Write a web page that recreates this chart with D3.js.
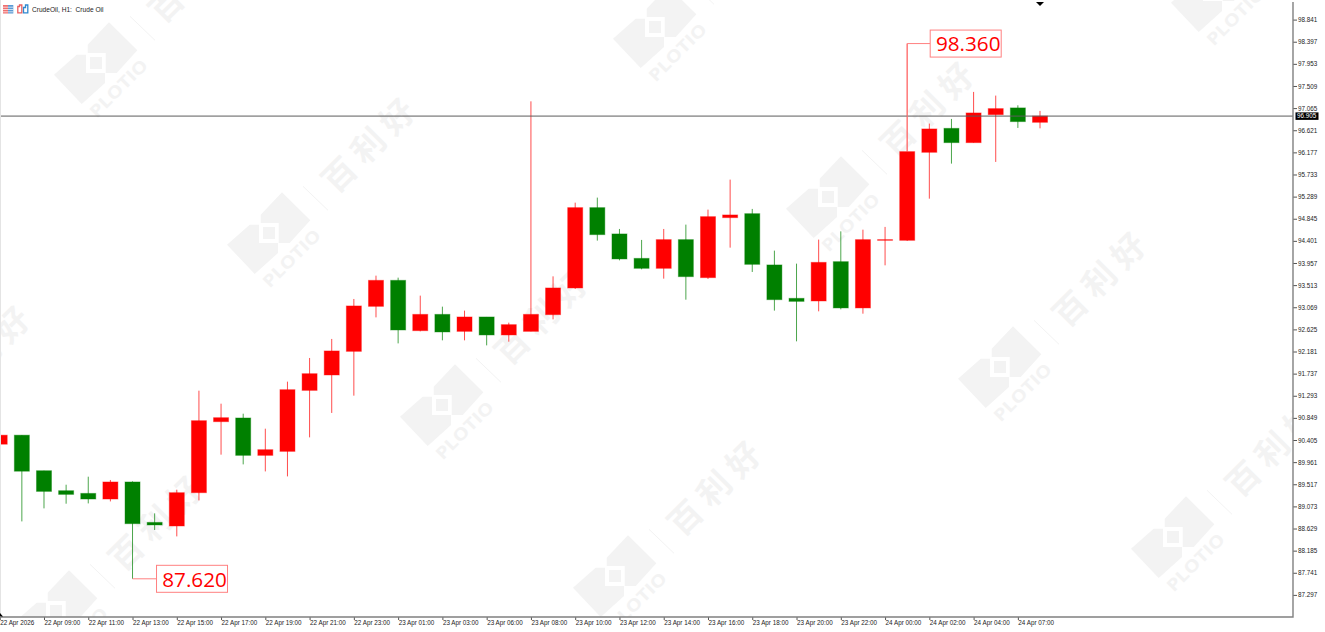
<!DOCTYPE html>
<html>
<head>
<meta charset="utf-8">
<style>
  html, body {margin: 0; padding: 0; background: #fff; overflow: hidden;}
  svg {display: block;}
  text {font-family: "Liberation Sans", Arial, sans-serif;}
</style>
<script src="https://cdn.jsdelivr.net/npm/d3@7"></script>
</head>
<body>
<div id="map"></div>
<script>
`use strict`;

// prices, one entry per H1 bar
const opens = [90.321, 90.502, 89.789, 89.388, 89.334, 89.221, 89.563, 88.752, 88.680, 89.348, 90.773, 90.847,
  90.097, 90.177, 91.401, 91.710, 92.184, 93.087, 93.609, 92.599, 92.926, 92.585, 92.874, 92.513,
  92.585, 92.920, 93.456, 95.068, 94.540, 94.050, 93.850, 94.426, 93.663, 94.867, 94.947, 93.918,
  93.248, 93.195, 93.984, 93.055, 94.412, 94.412, 96.178, 96.659, 96.372, 96.934, 97.069, 96.780];
const closes = [90.502, 89.779, 89.374, 89.314, 89.221, 89.563, 88.726, 88.700, 89.348, 90.793, 90.853, 90.097,
  90.211, 91.415, 91.736, 92.192, 93.095, 93.609, 92.613, 92.926, 92.573, 92.874, 92.513, 92.720,
  92.926, 93.456, 95.068, 94.526, 94.038, 93.850, 94.426, 93.683, 94.887, 94.921, 93.930, 93.221,
  93.187, 93.970, 93.055, 94.426, 94.426, 96.192, 96.647, 96.372, 96.968, 97.055, 96.794, 96.905];
const highs = [90.502, 90.502, 89.789, 89.508, 89.669, 89.603, 89.575, 88.933, 89.408, 91.395, 91.134, 90.933,
  90.632, 91.576, 92.051, 92.433, 93.235, 93.703, 93.663, 93.302, 93.081, 93.001, 92.874, 92.760,
  97.201, 93.689, 95.168, 95.269, 94.640, 94.420, 94.640, 94.727, 95.028, 95.630, 95.042, 94.205,
  93.944, 94.426, 94.592, 94.626, 94.681, 98.360, 96.754, 96.848, 97.390, 97.316, 97.121, 97.009];
const lows = [90.321, 88.772, 89.033, 89.127, 89.133, 89.173, 87.620, 88.599, 88.471, 89.193, 90.111, 89.916,
  89.775, 89.675, 90.458, 90.948, 91.295, 92.866, 92.344, 92.585, 92.405, 92.405, 92.304, 92.378,
  92.585, 92.826, 93.436, 94.406, 94.010, 93.830, 93.643, 93.221, 93.637, 94.265, 93.777, 93.001,
  92.385, 92.987, 93.027, 92.940, 93.910, 94.400, 95.248, 95.951, 96.372, 95.985, 96.667, 96.659];

const priceTicks = [98.841, 98.397, 97.953, 97.509, 97.065, 96.621, 96.177, 95.733, 95.289, 94.845, 94.401,
  93.957, 93.513, 93.069, 92.625, 92.181, 91.737, 91.293, 90.849, 90.405, 89.961, 89.517, 89.073,
  88.629, 88.185, 87.741, 87.297];

const timeTickBars = [0, 2, 4, 6, 8, 10, 12, 14, 16, 18, 20, 22, 24, 26, 28, 30, 32, 34, 36, 38, 40, 42, 44, 46];
const timeTickLabels = [`22 Apr 2026`, `22 Apr 09:00`, `22 Apr 11:00`, `22 Apr 13:00`, `22 Apr 15:00`, `22 Apr 17:00`,
  `22 Apr 19:00`, `22 Apr 21:00`, `22 Apr 23:00`, `23 Apr 01:00`, `23 Apr 03:00`, `23 Apr 06:00`, `23 Apr 08:00`,
  `23 Apr 10:00`, `23 Apr 12:00`, `23 Apr 14:00`, `23 Apr 16:00`, `23 Apr 18:00`, `23 Apr 20:00`, `23 Apr 22:00`,
  `24 Apr 00:00`, `24 Apr 02:00`, `24 Apr 04:00`, `24 Apr 07:00`];

const lastPrice = 96.905;
const chartTitle = `CrudeOil, H1:  Crude Oil`;
const extremeBars = [41, 6];
const extremePrices = [98.360, 87.620];

// watermark tiles, centre of the small square in each logo
const markX = [96, 269, 442, 615, 655, 828, 1000, 1173, 1213, 56, -116];
const markY = [63, 233, 405, 576, 27, 197, 367, 537, -9, 611, 441];

(function () {

  const W = 1325, H = 632, right = 1293, bottom = 617;

  const red = `#ff0000`, green = `#008000`, pink = `#ff8080`, mark = `#f3f3f3`;

  let x = d3.scaleLinear().domain([0, 47]).range([-0.28, 1040]);

  let y = d3.scaleLinear().domain([98.841, 87.297]).range([19.6, 594.9]);

  let svg = d3.select(`#map`).append(`svg`)
    .attr(`width`, W)
    .attr(`height`, H);

  svg.append(`rect`).attr(`width`, W).attr(`height`, H).attr(`fill`, `#fff`);

  svg.append(`defs`).append(`clipPath`).attr(`id`, `plot`)
    .append(`rect`).attr(`width`, right).attr(`height`, bottom);

  /**
  @dev - watermark
  **/

  let plot = svg.append(`g`).attr(`clip-path`, `url(#plot)`);

  let tiles = plot.append(`g`).selectAll(`g`).data(markX)
    .enter()
    .append(`g`)
    .attr(`transform`, (d, i) => `translate(${d},${markY[i]})`);

  tiles.append(`path`)
    .attr(`fill`, mark)
    .attr(`d`, `M-8.3,-18.3L13,-40.7L41.3,-12.7L20.7,10L9.7,10L9.7,-10L-8.3,-10Z`
      + `M-42,11.7L-19.3,-8.3L-10,-8.3L-10,10L9,10L9,20L-14.3,41Z`
      + `M-6,-6L6,-6L6,6L-6,6Z`);

  // skip the words of tiles that fall wholly outside the window
  tiles.filter(d => d > 0)
    .append(`text`)
    .attr(`transform`, `translate(0.7,55.7) rotate(-45)`)
    .attr(`fill`, mark)
    .attr(`font-size`, 17)
    .attr(`font-weight`, `bold`)
    .attr(`textLength`, 74)
    .attr(`lengthAdjust`, `spacingAndGlyphs`)
    .style(`font-family`, `"Open Sans", sans-serif`)
    .text(`PLOTIO`);

  tiles.append(`line`)
    .attr(`x1`, 34).attr(`y1`, -46.7)
    .attr(`x2`, 59).attr(`y2`, -22.7)
    .attr(`stroke`, mark)
    .attr(`stroke-width`, 1);

  tiles.filter((d, i) => markY[i] > 40)
    .append(`text`)
    .attr(`transform`, `translate(100.5,-91.5) rotate(-45)`)
    .attr(`fill`, mark)
    .attr(`font-size`, 33)
    .attr(`font-weight`, `bold`)
    .attr(`text-anchor`, `middle`)
    .attr(`dominant-baseline`, `central`)
    .attr(`letter-spacing`, 8)
    .style(`font-family`, `"Noto Sans CJK SC", sans-serif`)
    .text(`百利好`);

  /**
  @dev - candles
  **/

  let bars = plot.append(`g`).selectAll(`g`).data(opens)
    .enter()
    .append(`g`)
    .attr(`class`, `bar`);

  let tone = (d, i) => closes[i] >= d ? red : green;

  bars.append(`line`)
    .attr(`x1`, (d, i) => x(i))
    .attr(`x2`, (d, i) => x(i))
    .attr(`y1`, (d, i) => y(highs[i]))
    .attr(`y2`, (d, i) => y(lows[i]))
    .attr(`stroke`, tone)
    .attr(`stroke-opacity`, .7)
    .attr(`stroke-width`, 1);

  bars.append(`rect`)
    .attr(`x`, (d, i) => x(i) - 7.5)
    .attr(`width`, 15)
    .attr(`y`, (d, i) => y(Math.max(d, closes[i])))
    .attr(`height`, (d, i) => Math.max(Math.abs(y(d) - y(closes[i])), .6))
    .attr(`fill`, tone)
    .attr(`stroke`, tone)
    .attr(`stroke-opacity`, .4)
    .attr(`stroke-width`, 1);

  // last price line
  plot.append(`line`)
    .attr(`x1`, 0).attr(`x2`, right)
    .attr(`y1`, y(lastPrice)).attr(`y2`, y(lastPrice))
    .attr(`stroke`, `#5c5c5c`)
    .attr(`stroke-width`, 1);

  /**
  @dev - high and low callouts
  **/

  let notes = svg.append(`g`).selectAll(`g`).data(extremeBars)
    .enter()
    .append(`g`);

  // the high tag sits 23px right of its bar, the low tag 24px
  let tagX = (d, i) => x(d) + (i ? 24 : 23);

  notes.append(`path`)
    .attr(`fill`, `none`)
    .attr(`stroke`, pink)
    .attr(`d`, (d, i) => i
      ? `M${x(d)},${y(extremePrices[i])}H${tagX(d, i)}`
      : `M${x(d)},${y(Math.max(opens[d], closes[d]))}V${y(extremePrices[i])}H${tagX(d, i)}`);

  notes.append(`rect`)
    .attr(`x`, tagX)
    .attr(`y`, (d, i) => y(extremePrices[i]) - 13.5)
    .attr(`width`, 71)
    .attr(`height`, 27)
    .attr(`fill`, `#fff`)
    .attr(`stroke`, pink);

  notes.append(`text`)
    .attr(`x`, (d, i) => tagX(d, i) + 38)
    .attr(`y`, (d, i) => y(extremePrices[i]) + 7.8)
    .attr(`text-anchor`, `middle`)
    .attr(`fill`, red)
    .attr(`font-size`, 20.7)
    .style(`font-family`, `"Open Sans", sans-serif`)
    .text((d, i) => extremePrices[i].toFixed(3));

  /**
  @dev - axes
  **/

  let yAxis = svg.append(`g`)
    .attr(`transform`, `translate(${right},0)`)
    .call(d3.axisRight(y).tickValues(priceTicks).tickSize(4).tickPadding(1).tickFormat(d3.format(`.3f`)));

  yAxis.select(`.domain`).remove();

  yAxis.selectAll(`line`).attr(`stroke`, `#555`);

  yAxis.selectAll(`text`)
    .attr(`fill`, `#222`)
    .attr(`font-size`, 6.3)
    .style(`font-family`, `"Liberation Sans", sans-serif`);

  let xAxis = svg.append(`g`)
    .attr(`transform`, `translate(0,${bottom})`)
    .call(d3.axisBottom(x).tickValues(timeTickBars).tickSize(3)
      .tickFormat((d, i) => timeTickLabels[i]));

  xAxis.select(`.domain`).remove();

  xAxis.selectAll(`line`).attr(`stroke`, `#555`);

  xAxis.selectAll(`text`)
    .attr(`x`, 0)
    .attr(`y`, 4)
    .attr(`text-anchor`, `start`)
    .attr(`fill`, `#222`)
    .attr(`font-size`, 6.3)
    .style(`font-family`, `"Liberation Sans", sans-serif`);

  svg.append(`path`)
    .attr(`fill`, `none`)
    .attr(`stroke`, `#808080`)
    .attr(`stroke-width`, 1.4)
    .attr(`d`, `M${right},2V${bottom}H0`);

  svg.append(`line`)
    .attr(`x1`, .5).attr(`x2`, .5)
    .attr(`y1`, 0).attr(`y2`, bottom)
    .attr(`stroke`, `#e4e4e4`);

  // last price tag
  svg.append(`rect`)
    .attr(`x`, 1295.5).attr(`y`, y(lastPrice) - 3.7)
    .attr(`width`, 23).attr(`height`, 7.5)
    .attr(`fill`, `#000`);

  svg.append(`text`)
    .attr(`x`, 1297).attr(`y`, y(lastPrice) + 2.3)
    .attr(`fill`, `#fff`)
    .attr(`font-size`, 6.3)
    .text(lastPrice.toFixed(3));

  // markers on the frame
  svg.append(`path`).attr(`fill`, `#000`).attr(`d`, `M${x(47) - 4},2H${x(47) + 4}L${x(47)},6Z`);

  svg.append(`path`).attr(`fill`, `#000`).attr(`d`, `M0,613L3,616.5H0Z`);

  /**
  @dev - title and the two small toolbar icons
  **/

  let icons = svg.append(`g`);

  icons.append(`rect`).attr(`x`, 3).attr(`y`, 5).attr(`width`, 5).attr(`height`, 8.5).attr(`fill`, `#ef7070`);
  icons.append(`rect`).attr(`x`, 8).attr(`y`, 5).attr(`width`, 5.3).attr(`height`, 8.5).attr(`fill`, `#5b9bd5`);

  icons.selectAll(`line`).data([7.2, 9.5, 11.8])
    .enter()
    .append(`line`)
    .attr(`x1`, 3).attr(`x2`, 13.3)
    .attr(`y1`, d => d).attr(`y2`, d => d)
    .attr(`stroke`, `#fff`)
    .attr(`stroke-width`, .7);

  icons.append(`path`)
    .attr(`fill`, `none`)
    .attr(`stroke`, `#ea6060`)
    .attr(`stroke-width`, 1.3)
    .attr(`d`, `M17.8,6.5H19.5V5H21.8V12.8H17.8Z`);

  icons.append(`path`)
    .attr(`fill`, `none`)
    .attr(`stroke`, `#2f88d0`)
    .attr(`stroke-width`, 1.3)
    .attr(`d`, `M23.5,12.8V7.5H25.5V5H27.8V12.8Z`);

  svg.append(`text`)
    .attr(`x`, 32).attr(`y`, 11.5)
    .attr(`fill`, `#222`)
    .attr(`font-size`, 6.6)
    .attr(`xml:space`, `preserve`)
    .style(`white-space`, `pre`)
    .text(chartTitle);

})();
</script>
</body>
</html>
